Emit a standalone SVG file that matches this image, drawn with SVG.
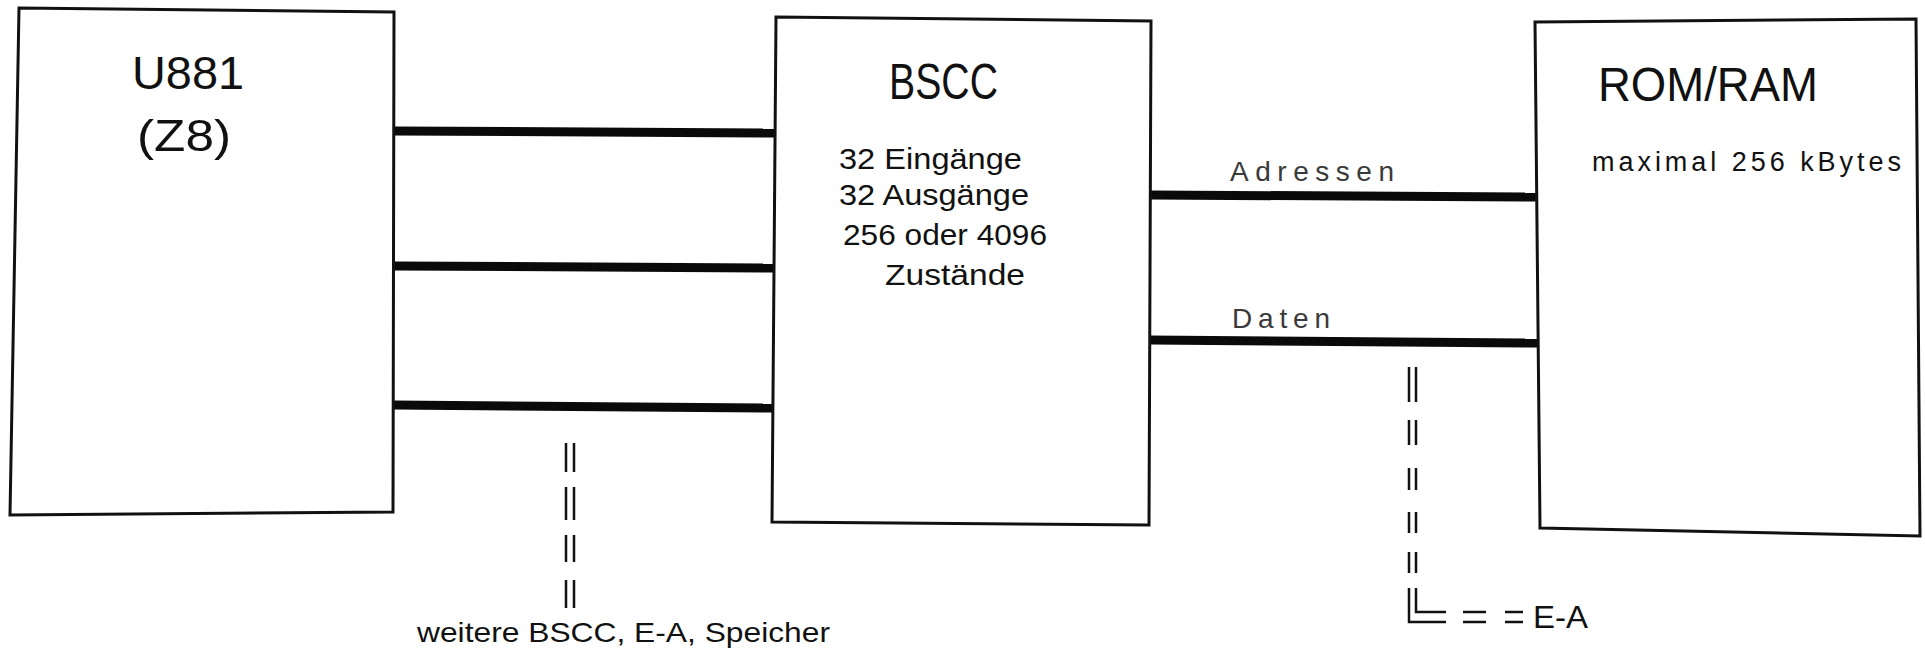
<svg xmlns="http://www.w3.org/2000/svg" width="1925" height="650" viewBox="0 0 1925 650">
<style>
.box{fill:#fff;stroke:#111;stroke-width:3;stroke-linejoin:miter}
.bus{stroke:#0a0a0a;stroke-width:9;fill:none}
.dd{stroke:#111;stroke-width:2.5;fill:none}
text{font-family:"Liberation Sans",Arial,sans-serif;fill:#111}
.lbl{fill:#3a3a3a}
</style>
<rect width="1925" height="650" fill="#fff"/>
<g id="connectors">
<line class="bus" x1="394" y1="131" x2="776" y2="133"/>
<line class="bus" x1="394" y1="266" x2="774" y2="268"/>
<line class="bus" x1="394" y1="405" x2="774" y2="408"/>
<line class="bus" x1="1151" y1="195" x2="1537" y2="197"/>
<line class="bus" x1="1150" y1="340" x2="1538" y2="343"/>
<g id="dd-left">
<path class="dd" d="M566,443V472M574,443V472M566,487V520M574,487V520M566,535V562M574,535V562M566,580V608M574,580V608"/>
</g>
<g id="dd-right">
<path class="dd" d="M1409,367V402M1416,367V402M1409,420V445M1416,420V445M1409,468V490M1416,468V490M1409,512V533M1416,512V533M1409,552V573M1416,552V573"/>
<path class="dd" d="M1409,588V622H1446M1416,588V612H1446M1463,612H1486M1463,622H1486M1505,612H1523M1505,622H1523"/>
</g>
<text id="lbl-adressen" class="lbl" x="1230" y="181" font-size="28" textLength="164" lengthAdjust="spacing">Adressen</text>
<text id="lbl-daten" class="lbl" x="1232" y="328" font-size="28" textLength="98" lengthAdjust="spacing">Daten</text>
<text id="lbl-weitere" x="417" y="642" font-size="28" textLength="413" lengthAdjust="spacingAndGlyphs">weitere BSCC, E-A, Speicher</text>
<text id="lbl-ea" x="1533" y="628" font-size="31" textLength="55" lengthAdjust="spacingAndGlyphs">E-A</text>
</g>
<g id="node-u881">
<polygon class="box" points="19,8 394,12 393,512 10,515"/>
<text x="132" y="89" font-size="47" textLength="112" lengthAdjust="spacingAndGlyphs" fill="#222">U881</text>
<text x="137" y="151" font-size="45" textLength="94" lengthAdjust="spacingAndGlyphs">(Z8)</text>
</g>
<g id="node-bscc">
<polygon class="box" points="776,17 1151,21 1149,525 772,522"/>
<text x="889" y="99" font-size="50" textLength="109" lengthAdjust="spacingAndGlyphs">BSCC</text>
<text x="839" y="169" font-size="30" textLength="183" lengthAdjust="spacingAndGlyphs">32 Eingänge</text>
<text x="839" y="205" font-size="30" textLength="190" lengthAdjust="spacingAndGlyphs">32 Ausgänge</text>
<text x="843" y="245" font-size="29" textLength="204" lengthAdjust="spacingAndGlyphs">256 oder 4096</text>
<text x="885" y="285" font-size="30" textLength="140" lengthAdjust="spacingAndGlyphs">Zustände</text>
</g>
<g id="node-romram">
<polygon class="box" points="1535,22 1916,19 1920,536 1540,528"/>
<text x="1598" y="101" font-size="48" textLength="220" lengthAdjust="spacingAndGlyphs">ROM/RAM</text>
<text x="1592" y="171" font-size="27" textLength="309" lengthAdjust="spacing" fill="#222">maximal 256 kBytes</text>
</g>
</svg>
